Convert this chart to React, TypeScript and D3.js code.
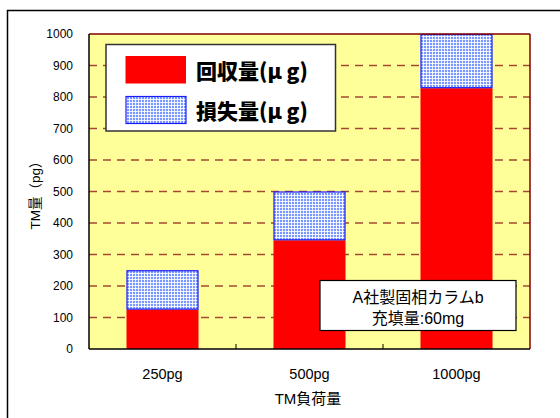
import React from "react";
import * as d3 from "d3";

const categories = ["250pg", "500pg", "1000pg"];
const recovered = [125, 345, 828];
const loss = [125, 155, 172];
const yTicks = [0, 100, 200, 300, 400, 500, 600, 700, 800, 900, 1000];
const legendLabels = ["回収量(μ g)", "損失量(μ g)"];
const noteLines = ["A社製固相カラムb", "充填量:60mg"];

const W = 560;
const H = 418;
const plot = { left: 89, right: 530, top: 34, bottom: 349 };

const latin = "'Liberation Sans', Arial, 'Noto Sans CJK JP', sans-serif";
const cjk = "'Noto Sans CJK JP', 'Liberation Sans', sans-serif";

export default function App() {
  const x = d3
    .scaleBand<string>()
    .domain(categories)
    .range([plot.left, plot.right])
    .padding(0);
  const y = d3.scaleLinear().domain([0, 1000]).range([plot.bottom, plot.top]);
  const barW = x.bandwidth() * 0.49;

  const stacks = categories.map((c, i) => ({
    c,
    x0: (x(c) as number) + (x.bandwidth() - barW) / 2,
    r0: 0,
    r1: recovered[i],
    l0: recovered[i],
    l1: recovered[i] + loss[i],
  }));

  return (
    <svg
      width={W}
      height={H}
      style={{ position: "absolute", left: 0, top: 0, background: "#fff" }}
    >
      <defs>
        <pattern id="grid" width={3} height={3} patternUnits="userSpaceOnUse">
          <rect width={3} height={3} fill="#7a98ff" />
          <rect width={1} height={3} fill="#ffffff" opacity={0.85} />
          <rect width={3} height={1} fill="#ffffff" opacity={0.85} />
        </pattern>
      </defs>

      {/* outer frame */}
      <rect x={7.5} y={10.5} width={W} height={H} fill="none" stroke="#000" strokeWidth={1.5} />

      {/* plot background */}
      <rect
        x={plot.left}
        y={plot.top}
        width={plot.right - plot.left}
        height={plot.bottom - plot.top}
        fill="#ffff99"
      />

      {/* gridlines */}
      {yTicks
        .filter((t) => t > 0 && t < 1000)
        .map((t) => (
          <line
            key={t}
            x1={plot.left}
            x2={plot.right}
            y1={y(t)}
            y2={y(t)}
            stroke="#8b1a1a"
            strokeOpacity={0.8}
            strokeWidth={1.3}
            strokeDasharray="8,6"
          />
        ))}

      {/* bars */}
      {stacks.map((s) => (
        <g key={s.c}>
          <rect x={s.x0} y={y(s.r1)} width={barW} height={y(s.r0) - y(s.r1)} fill="#ff0000" />
          <rect
            x={s.x0 + 0.5}
            y={y(s.l1) + 0.5}
            width={barW - 1}
            height={y(s.l0) - y(s.l1) - 1}
            fill="url(#grid)"
            stroke="#1a1aff"
            strokeWidth={1.2}
          />
        </g>
      ))}

      {/* plot border: top/right dark red, left/bottom black axes */}
      <line x1={plot.left} x2={plot.right} y1={plot.top} y2={plot.top} stroke="#800000" strokeWidth={1.5} />
      <line x1={plot.right} x2={plot.right} y1={plot.top} y2={plot.bottom} stroke="#800000" strokeWidth={1.5} />
      <line x1={plot.left} x2={plot.left} y1={plot.top} y2={plot.bottom} stroke="#000" strokeWidth={1.5} />
      <line x1={plot.left} x2={plot.right} y1={plot.bottom} y2={plot.bottom} stroke="#000" strokeWidth={1.5} />

      {/* x category separators */}
      {categories.slice(1).map((c) => (
        <line
          key={c}
          x1={x(c) as number}
          x2={x(c) as number}
          y1={plot.bottom}
          y2={plot.bottom - 5}
          stroke="#000"
          strokeWidth={1}
        />
      ))}

      {/* y tick labels */}
      {yTicks.map((t) => (
        <text
          key={t}
          x={73}
          y={y(t)}
          textAnchor="end"
          dominantBaseline="central"
          fontFamily={latin}
          fontSize={12}
          fill="#000"
        >
          {t}
        </text>
      ))}

      {/* x tick labels */}
      {categories.map((c) => (
        <text
          key={c}
          x={(x(c) as number) + x.bandwidth() / 2}
          y={374}
          textAnchor="middle"
          dominantBaseline="central"
          fontFamily={latin}
          fontSize={14.5}
          fill="#000"
        >
          {c}
        </text>
      ))}

      {/* axis titles */}
      <text
        x={308}
        y={398}
        textAnchor="middle"
        dominantBaseline="central"
        fontFamily={latin}
        fontSize={15}
        fill="#000"
      >
        TM負荷量
      </text>
      <text
        transform="translate(35,192) rotate(-90)"
        textAnchor="middle"
        dominantBaseline="central"
        fontFamily={latin}
        fontSize={13.5}
        fill="#000"
      >
        TM量（pg）
      </text>

      {/* legend */}
      <rect x={106} y={44.5} width={229.5} height={86.5} fill="#fff" stroke="#333" strokeWidth={1.5} />
      <rect x={125.5} y={56} width={60.5} height={27.5} fill="#ff0000" />
      <rect x={126} y={96.5} width={60} height={27} fill="url(#grid)" stroke="#1a1aff" strokeWidth={1.2} />
      {legendLabels.map((l, i) => (
        <text
          key={l}
          x={196}
          y={70 + i * 40}
          dominantBaseline="central"
          fontFamily={cjk}
          fontWeight={900}
          fontSize={21}
          fill="#000"
        >
          {l}
        </text>
      ))}

      {/* note box */}
      <rect x={320} y={280.5} width={196} height={50} fill="#fff" stroke="#000" strokeWidth={1.2} />
      {noteLines.map((l, i) => (
        <text
          key={l}
          x={418}
          y={297 + i * 21}
          textAnchor="middle"
          dominantBaseline="central"
          fontFamily={latin}
          fontSize={16}
          fill="#000"
        >
          {l}
        </text>
      ))}
    </svg>
  );
}
